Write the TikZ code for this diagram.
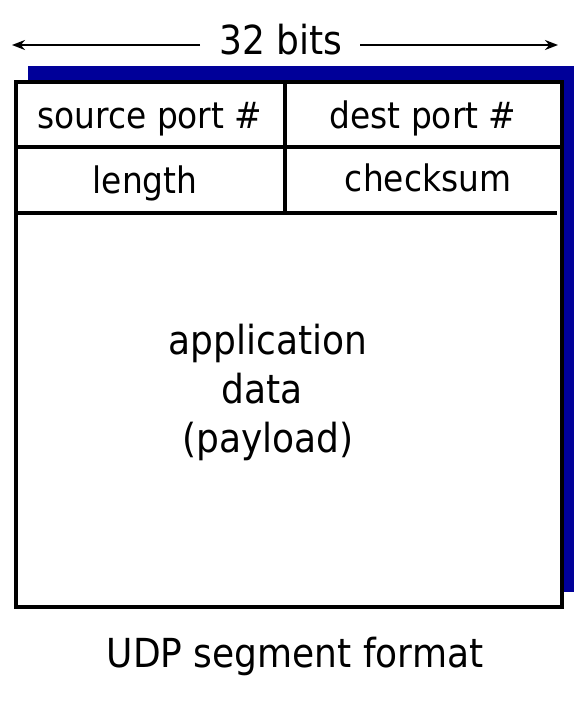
\documentclass[tikz,border=0pt]{standalone}
\usepackage{fontspec}
\setmainfont{DejaVu Sans Condensed}
\usetikzlibrary{arrows.meta}
\definecolor{shadowblue}{RGB}{0,0,153}
\tikzset{
  lbl/.style={font=\fontsize{36.5}{44}\selectfont, inner sep=0pt, anchor=base},
  biglbl/.style={font=\fontsize{40}{50}\selectfont, inner sep=0pt, anchor=base},
  frame/.style={line width=3.6pt},
  rule/.style={line width=3.2pt},
  dim/.style={line width=2pt, -{Stealth[length=13pt,width=10pt]}}
}
\begin{document}
\begin{tikzpicture}[x=1pt,y=-1pt]
\useasboundingbox (0,0) rectangle (574,702);
\fill[shadowblue] (28,66) rectangle (574,592);
\fill[white] (16,82) rectangle (562,607);
\draw[frame] (16,82) rectangle (562,607);
\draw[rule] (14,147) -- (562,147);
\draw[rule] (14,213) -- (557,213);
\draw[rule] (285,82) -- (285,213);
\node[biglbl] (bits) at (281,54) {32 bits};
\coordinate (ls) at (200,45);
\coordinate (la) at (12,45);
\coordinate (rs) at (360,45);
\coordinate (ra) at (558,45);
\draw[dim] (ls) -- (la);
\draw[dim] (rs) -- (ra);
\node[lbl] (src) at (150,128) {source port \#};
\node[lbl] (dst) at (423,128) {dest port \#};
\node[lbl] (len) at (145,193) {length};
\node[lbl] (chk) at (428,191) {checksum};
\node[biglbl] (app1) at (268,354) {application};
\node[biglbl] (app2) at (262,403) {data};
\node[biglbl] (app3) at (268,452) {(payload)};
\node[biglbl] (cap) at (295,667) {UDP segment format};
\end{tikzpicture}
\end{document}
